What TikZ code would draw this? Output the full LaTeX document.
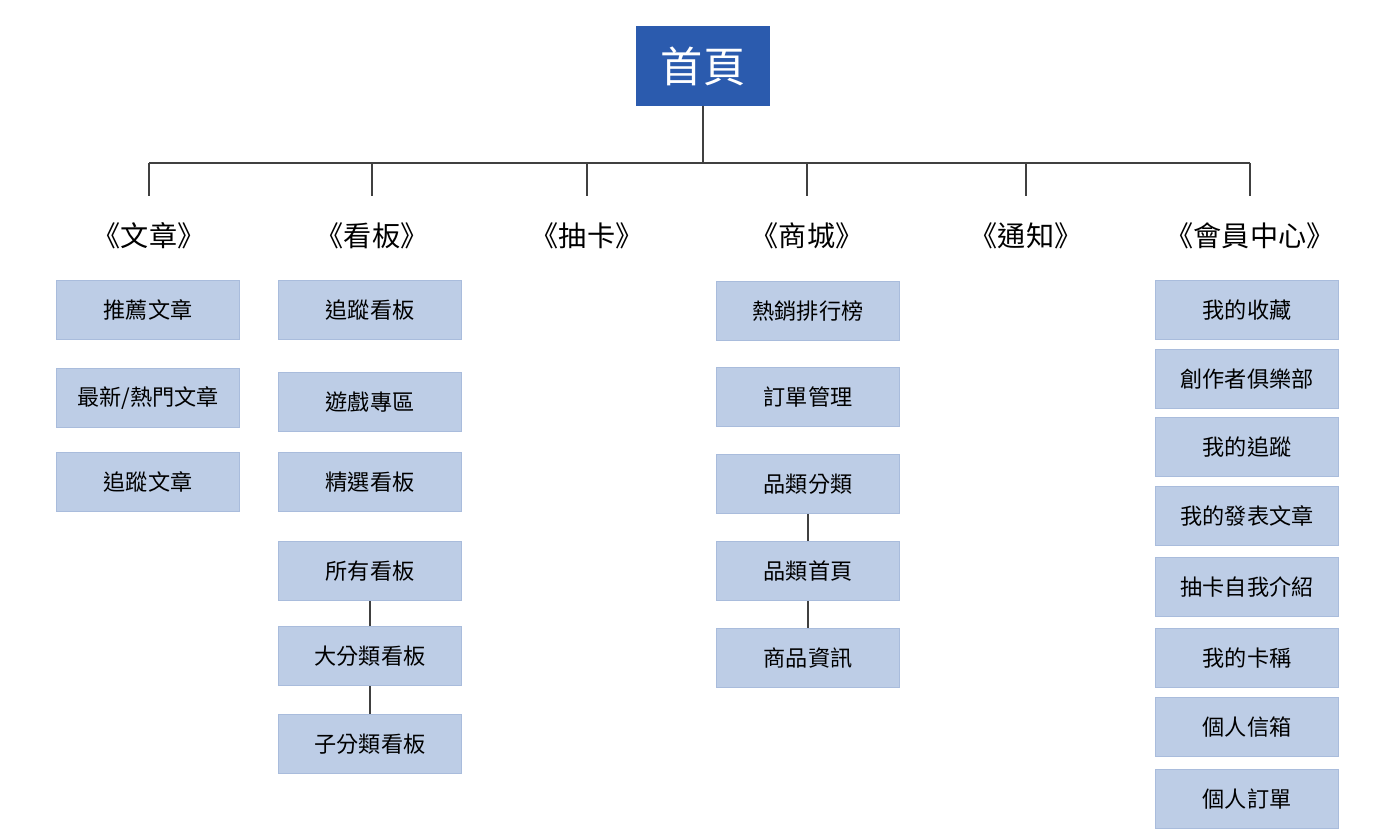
\documentclass[tikz,border=0pt]{standalone}
\usepackage{fontspec}
\setmainfont{Noto Sans CJK TC}
\usetikzlibrary{positioning}
\definecolor{topblue}{HTML}{2B5BAE}
\definecolor{boxblue}{HTML}{BDCDE6}
\definecolor{boxline}{HTML}{A9BCDC}
\begin{document}
\begin{tikzpicture}[x=0.01cm,y=-0.01cm,
    box/.style={draw=boxline,fill=boxblue,minimum width=1.83cm,minimum height=0.59cm,inner sep=0pt,font=\fontsize{6.3pt}{7pt}\selectfont},
    cat/.style={font=\fontsize{8pt}{9pt}\selectfont},
    link/.style={draw=black!75,line width=0.4pt}]
    \useasboundingbox (0,0) rectangle (1400,840);

    \node[fill=topblue,draw=topblue,text=white,minimum width=1.33cm,minimum height=0.78cm,font=\fontsize{12pt}{13pt}\selectfont] (home) at (703,66) {首頁};

    \node[cat] (c1) at (149,236) {《文章》};
    \node[cat] (c2) at (372,236) {《看板》};
    \node[cat] (c3) at (587,236) {《抽卡》};
    \node[cat] (c4) at (807,236) {《商城》};
    \node[cat] (c5) at (1026,236) {《通知》};
    \node[cat] (c6) at (1250,236) {《會員中心》};

    \coordinate (bus) at (703,163);
    \draw[link] (home.south) -- (bus);
    \draw[link] (149,163) -- (1250,163);
    \foreach \n/\x in {c1/149,c2/372,c3/587,c4/807,c5/1026,c6/1250}
        \draw[link] (\x,163) -- (\x,196);

    % 文章
    \node[box] (a1) at (148,310) {推薦文章};
    \node[box] (a2) at (148,398) {最新/熱門文章};
    \node[box] (a3) at (148,482) {追蹤文章};

    % 看板
    \node[box] (b1) at (370,310) {追蹤看板};
    \node[box] (b2) at (370,402) {遊戲專區};
    \node[box] (b3) at (370,482) {精選看板};
    \node[box] (b4) at (370,571) {所有看板};
    \node[box] (b5) at (370,656) {大分類看板};
    \node[box] (b6) at (370,744) {子分類看板};
    \draw[link] (b4) -- (b5);
    \draw[link] (b5) -- (b6);

    % 商城
    \node[box] (s1) at (808,311) {熱銷排行榜};
    \node[box] (s2) at (808,397) {訂單管理};
    \node[box] (s3) at (808,484) {品類分類};
    \node[box] (s4) at (808,571) {品類首頁};
    \node[box] (s5) at (808,658) {商品資訊};
    \draw[link] (s3) -- (s4);
    \draw[link] (s4) -- (s5);

    % 會員中心
    \node[box] (m1) at (1247,310) {我的收藏};
    \node[box] (m2) at (1247,379) {創作者俱樂部};
    \node[box] (m3) at (1247,447) {我的追蹤};
    \node[box] (m4) at (1247,516) {我的發表文章};
    \node[box] (m5) at (1247,587) {抽卡自我介紹};
    \node[box] (m6) at (1247,658) {我的卡稱};
    \node[box] (m7) at (1247,727) {個人信箱};
    \node[box] (m8) at (1247,799) {個人訂單};
\end{tikzpicture}
\end{document}
